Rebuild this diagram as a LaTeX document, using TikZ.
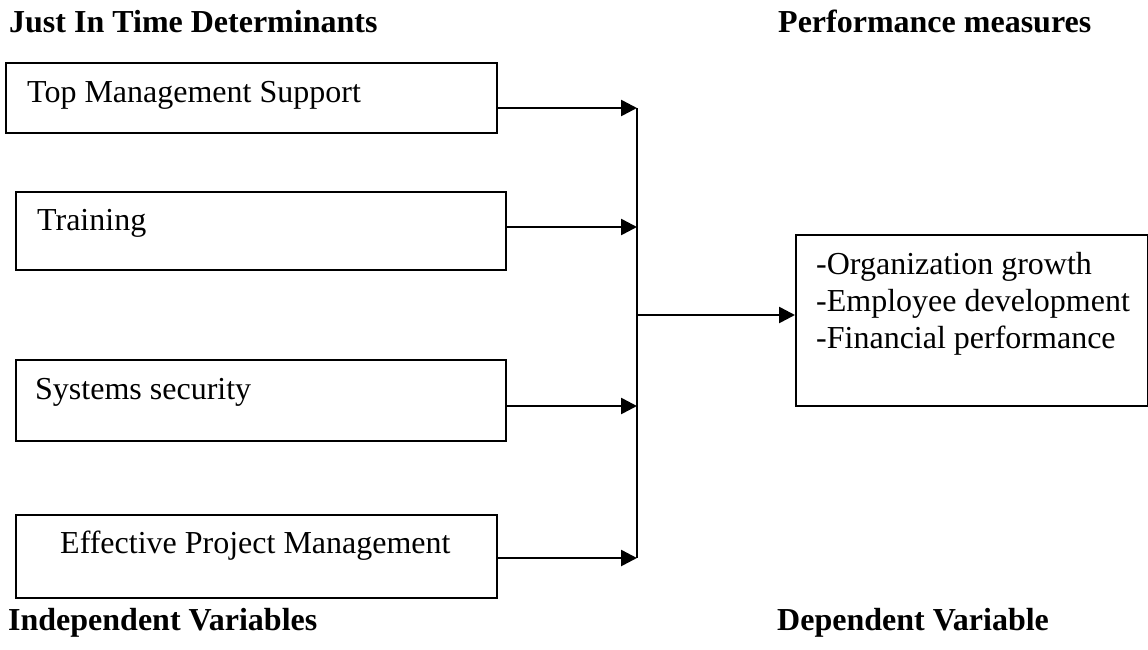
\documentclass[tikz,border=0pt]{standalone}
\usepackage{fontspec}
\setmainfont{Liberation Serif}
\usetikzlibrary{arrows.meta}
\begin{document}
\begin{tikzpicture}[x=1pt,y=-1pt,
  box/.style={draw=black, line width=2.2pt, rectangle, inner sep=0pt, anchor=north west},
  lbl/.style={inner sep=0pt, anchor=base west, font=\fontsize{32}{37}\selectfont},
  ttl/.style={inner sep=0pt, anchor=base west, font=\fontsize{32}{37}\selectfont\bfseries},
  arr/.style={line width=2.6pt, -{Triangle[length=16pt,width=16pt]}},
  bus/.style={line width=2.4pt}]
  \useasboundingbox (0,0) rectangle (1148,649);

  % headings
  \node[ttl] (hjit) at (9,32) {Just In Time Determinants};
  \node[ttl] (hperf) at (778,32) {Performance measures};
  \node[ttl] (hind) at (8,630) {Independent Variables};
  \node[ttl] (hdep) at (777,630) {Dependent Variable};

  % determinant boxes
  \node[box, minimum width=491pt, minimum height=70pt] (b1) at (5,62) {};
  \node[lbl] (t1) at (27,102) {Top Management Support};
  \node[box, minimum width=490pt, minimum height=78pt] (b2) at (15,191) {};
  \node[lbl] (t2) at (37,230) {Training};
  \node[box, minimum width=490pt, minimum height=81pt] (b3) at (15,359) {};
  \node[lbl] (t3) at (35,399) {Systems security};
  \node[box, minimum width=481pt, minimum height=83pt] (b4) at (15,514) {};
  \node[lbl] (t4) at (60,553) {Effective Project Management};

  % performance box
  \node[box, minimum width=352pt, minimum height=171pt] (out) at (795,234) {};
  \node[lbl] (o1) at (816,274) {-Organization growth};
  \node[lbl] (o2) at (816,311) {-Employee development};
  \node[lbl] (o3) at (816,348) {-Financial performance};

  % junction points on the collecting bus
  \coordinate (j1) at (637,108);
  \coordinate (j2) at (637,227);
  \coordinate (j3) at (637,406);
  \coordinate (j4) at (637,558);
  \coordinate (jm) at (637,315);

  \draw[bus] (j1) -- (j4);
  \draw[arr] (b1.east |- j1) -- (j1);
  \draw[arr] (b2.east |- j2) -- (j2);
  \draw[arr] (b3.east |- j3) -- (j3);
  \draw[arr] (b4.east |- j4) -- (j4);
  \draw[arr] (jm) -- (out.west |- jm);
\end{tikzpicture}
\end{document}
